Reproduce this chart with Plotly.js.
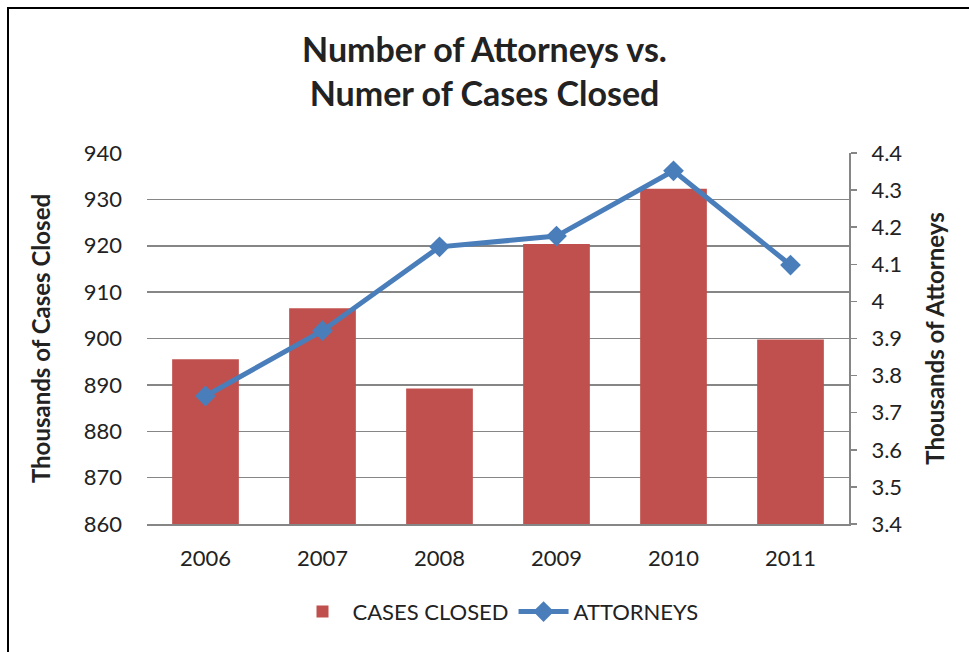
<!DOCTYPE html>
<html>
<head>
<meta charset="utf-8">
<script src="https://cdn.plot.ly/plotly-3.0.1.min.js"></script>
<style>
  html, body { margin: 0; padding: 0; background: #fff; overflow: hidden; }
  #chart { position: absolute; left: 0; top: 0; width: 969px; height: 652px; }
  #frame { position: absolute; left: 7px; top: 7px; width: 1200px; height: 1200px;
           border: 2px solid #000; pointer-events: none; }
</style>
</head>
<body>
<div id="chart"></div>
<div id="frame"></div>
<script>
const years = ['2006', '2007', '2008', '2009', '2010', '2011'];
const casesClosed = [895.5, 906.5, 889.2, 920.4, 932.3, 899.8];
const attorneys = [3.745, 3.921, 4.147, 4.176, 4.352, 4.098];
const leftTicks = [860, 870, 880, 890, 900, 910, 920, 930, 940];
const rightTicks = [3.4, 3.5, 3.6, 3.7, 3.8, 3.9, 4, 4.1, 4.2, 4.3, 4.4];

const FONT = 'Lato, "Open Sans", sans-serif';

const traces = [
  {
    type: 'bar', name: 'CASES CLOSED', x: years, y: casesClosed,
    marker: { color: '#C0504D' }, yaxis: 'y'
  },
  {
    type: 'scatter', mode: 'lines+markers', name: 'ATTORNEYS', x: years, y: attorneys,
    line: { color: '#4A7EBB', width: 5 },
    marker: { symbol: 'diamond', size: 16, color: '#4A7EBB' },
    yaxis: 'y2'
  }
];

const layout = {
  width: 969, height: 652,
  margin: { l: 147, r: 120, t: 153, b: 128 },
  paper_bgcolor: '#fff', plot_bgcolor: '#fff',
  font: { family: FONT, color: '#222', size: 22 },
  title: {
    text: '<b>Number of Attorneys vs.<br>Numer of Cases Closed</b>',
    font: { family: FONT, size: 34, color: '#222' },
    x: 0.5, xanchor: 'center', y: 0.905, yanchor: 'top'
  },
  bargap: 0.43,
  showlegend: true,
  legend: {
    orientation: 'h', x: 0.5, xanchor: 'center', y: -0.18, yanchor: 'top',
    font: { family: FONT, size: 22, color: '#222' }, itemwidth: 50
  },
  xaxis: {
    type: 'category', showline: true, linecolor: '#868686', linewidth: 2,
    ticks: '', tickfont: { size: 22 }, ticklabelstandoff: 14
  },
  yaxis: {
    range: [860, 940], tickvals: leftTicks, showgrid: true,
    gridcolor: '#868686', gridwidth: 1.5, zeroline: false, showline: false,
    ticks: '', tickfont: { size: 22 }, ticklabelstandoff: 24,
    title: { text: '<b>Thousands of Cases Closed</b>', font: { size: 24 }, standoff: 26 }
  },
  yaxis2: {
    range: [3.4, 4.4], tickvals: rightTicks, overlaying: 'y', side: 'right',
    showgrid: false, zeroline: false, showline: true, linecolor: '#868686', linewidth: 2,
    ticks: 'outside', ticklen: 6, tickcolor: '#868686', tickwidth: 1.5,
    tickfont: { size: 22 }, ticklabelstandoff: 10,
    title: { text: '<b>Thousands of Attorneys</b>', font: { size: 24 }, standoff: 26 }
  }
};

Plotly.newPlot('chart', traces, layout, { displayModeBar: false, staticPlot: true });
</script>
</body>
</html>
